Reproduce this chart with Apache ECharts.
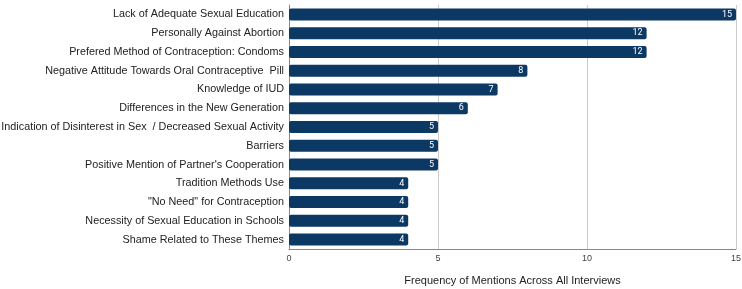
<!DOCTYPE html>
<html>
<head>
<meta charset="utf-8">
<script src="https://cdn.jsdelivr.net/npm/echarts@6/dist/echarts.min.js"></script>
<style>
html,body{margin:0;padding:0;background:#fff;}
#chart{width:742px;height:289px;}
</style>
</head>
<body>
<div id="chart"></div>
<script>
var categories = [
    'Lack of Adequate Sexual Education',
    'Personally Against Abortion',
    'Prefered Method of Contraception: Condoms',
    'Negative Attitude Towards Oral Contraceptive  Pill',
    'Knowledge of IUD',
    'Differences in the New Generation',
    'Indication of Disinterest in Sex  / Decreased Sexual Activity',
    'Barriers',
    "Positive Mention of Partner's Cooperation",
    'Tradition Methods Use',
    '"No Need" for Contraception',
    'Necessity of Sexual Education in Schools',
    'Shame Related to These Themes'
];
var mentions = [15, 12, 12, 8, 7, 6, 5, 5, 5, 4, 4, 4, 4];
var xTicks = [0, 5, 10, 15];

var chart = echarts.init(document.getElementById('chart'));
var option = {
    animation: false,
    grid: {left: 289, right: 6, top: 5, bottom: 40, outerBoundsMode: 'none', containLabel: false},
    xAxis: {
        type: 'value',
        min: xTicks[0],
        max: xTicks[xTicks.length - 1],
        interval: 5,
        name: 'Frequency of Mentions Across All Interviews',
        nameLocation: 'middle',
        nameGap: 26,
        nameTextStyle: {fontFamily: 'Liberation Sans', fontSize: 11, color: '#222'},
        axisLine: {show: true, lineStyle: {color: '#888', width: 1}},
        axisTick: {show: false},
        axisLabel: {fontFamily: 'Liberation Sans', fontSize: 9, color: '#444', margin: 5},
        splitLine: {show: true, lineStyle: {color: '#ccc', width: 1}}
    },
    yAxis: {
        type: 'category',
        data: categories,
        inverse: true,
        axisLine: {show: true, lineStyle: {color: '#888', width: 1}},
        axisTick: {show: false},
        axisLabel: {fontFamily: 'Liberation Sans', fontSize: 10.8, color: '#222', margin: 5}
    },
    series: [{
        type: 'bar',
        data: mentions,
        barWidth: 12,
        itemStyle: {color: '#0c3864', borderRadius: 2},
        label: {
            show: true,
            position: 'insideRight',
            distance: 4,
            color: '#fff',
            fontFamily: 'Roboto',
            fontSize: 9
        }
    }]
};
chart.setOption(option);
</script>
</body>
</html>
